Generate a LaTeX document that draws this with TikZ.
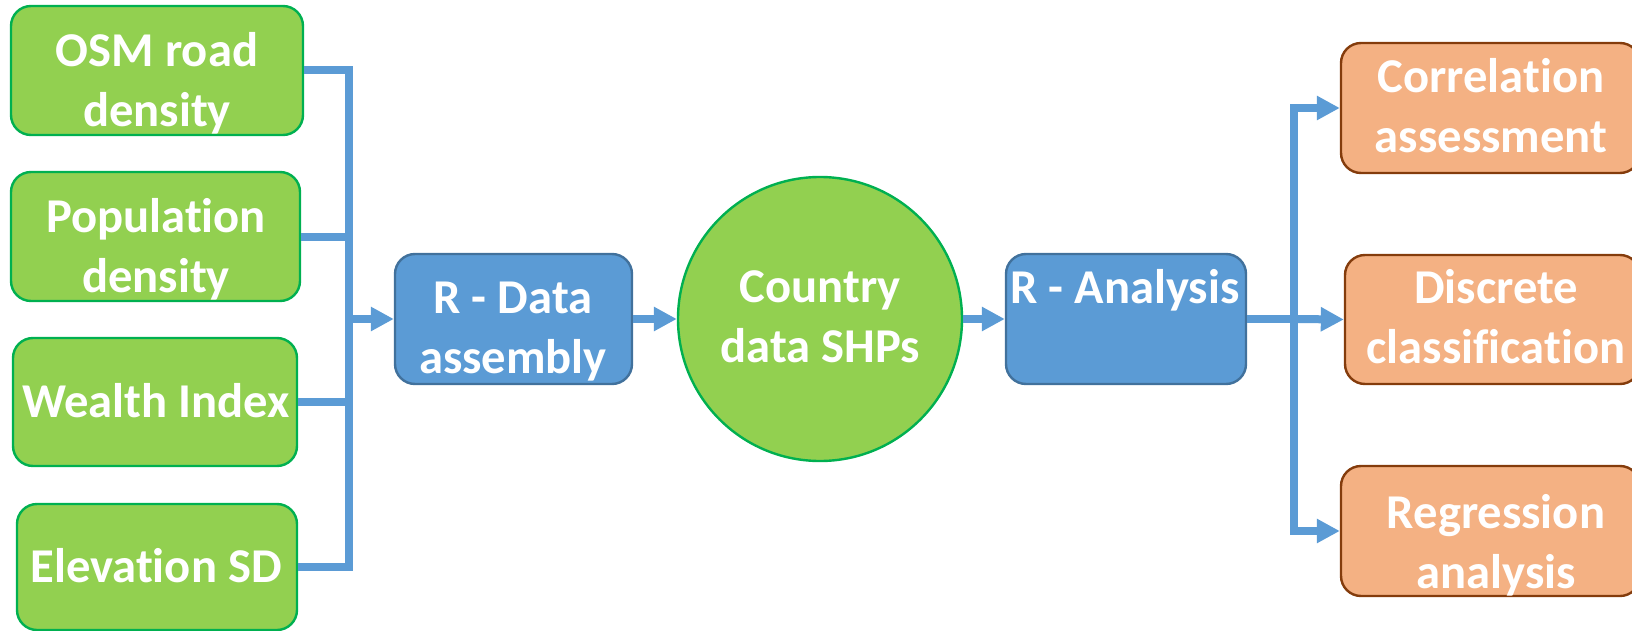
\documentclass[tikz,border=0pt]{standalone}
\usepackage{fontspec}
\setmainfont{Carlito}[Ligatures={NoCommon}]
\usetikzlibrary{arrows.meta,fit}
\definecolor{gfill}{HTML}{92D050}
\definecolor{gline}{HTML}{00B050}
\definecolor{bfill}{HTML}{5B9BD5}
\definecolor{bline}{HTML}{41719C}
\definecolor{ofill}{HTML}{F4B183}
\definecolor{oline}{HTML}{843C0C}
\definecolor{conncol}{HTML}{5B9BD5}
\newcommand{\twolines}[2]{\begin{tabular}[t]{@{}c@{}}#1\\#2\end{tabular}}
\begin{document}
\begin{tikzpicture}[x=0.5pt,y=-0.5pt,
 box/.style={rounded corners=10pt, inner sep=0pt, line width=1.2pt},
 gbox/.style={box, fill=gfill, draw=gline},
 bbox/.style={box, fill=bfill, draw=bline},
 obox/.style={box, fill=ofill, draw=oline},
 lbl/.style={anchor=base, inner sep=0pt, text=white, font=\fontsize{24.3}{30}\selectfont\bfseries},
 link/.style={draw=conncol, line width=4pt},
 arr/.style={link, -{Triangle[length=11.5pt,width=11.5pt]}},
]
\useasboundingbox (0,0) rectangle (1632,631);

% boxes
\node[gbox, fit={(11,6) (303,135)}] (osm) {};
\node[gbox, fit={(11,172) (300,301)}] (pop) {};
\node[gbox, fit={(13,338) (297,466)}] (wealth) {};
\node[gbox, fit={(17,504) (297,630)}] (elev) {};
\node[bbox, fit={(395,254) (632,384)}] (rdata) {};
\node[circle, fill=gfill, draw=gline, line width=1.2pt, inner sep=0pt, minimum size=142pt] (circ) at (820,319) {};
\node[bbox, fit={(1006,254) (1246,384)}] (ranal) {};
\node[obox, fit={(1341,43) (1640,173)}] (corr) {};
\node[obox, fit={(1345,255) (1640,384)}] (disc) {};
\node[obox, fit={(1341,466) (1640,596)}] (regr) {};

% connectors
\coordinate (jl) at (349,319);
\coordinate (jr) at (1294,319);
\draw[link] (osm.east) -| (jl);
\draw[link] (pop.east) -| (jl);
\draw[link] (wealth.east) -| (jl);
\draw[link] (elev.east) -| (jl);
\draw[arr] (jl) -- (rdata.west);
\draw[arr] (rdata.east) -- (circ.west);
\draw[arr] (circ.east) -- (ranal.west);
\draw[link] (ranal.east) -- (jr);
\draw[arr] (jr) |- (corr.west);
\draw[arr] (jr) -- (disc.west);
\draw[arr] (jr) |- (regr.west);

% texts
\node[lbl] (osmt) at (157,67) {\twolines{OSM road}{density}};
\node[lbl] (popt) at (156,232) {\twolines{Population}{density}};
\node[lbl] (wealtht) at (156,417) {Wealth Index};
\node[lbl] (elevt) at (156,582) {Elevation SD};
\node[lbl] (rdatat) at (513,313) {\twolines{R - Data}{assembly}};
\node[lbl] (circt) at (820,302) {\twolines{Country}{data SHPs}};
\node[lbl] (ranalt) at (1125,303) {R - Analysis};
\node[lbl] (corrt) at (1491,93) {\twolines{Correlation}{assessment}};
\node[lbl] (disct) at (1496,303) {\twolines{Discrete}{classification}};
\node[lbl] (regrt) at (1496,528) {\twolines{Regression}{analysis}};
\end{tikzpicture}
\end{document}
